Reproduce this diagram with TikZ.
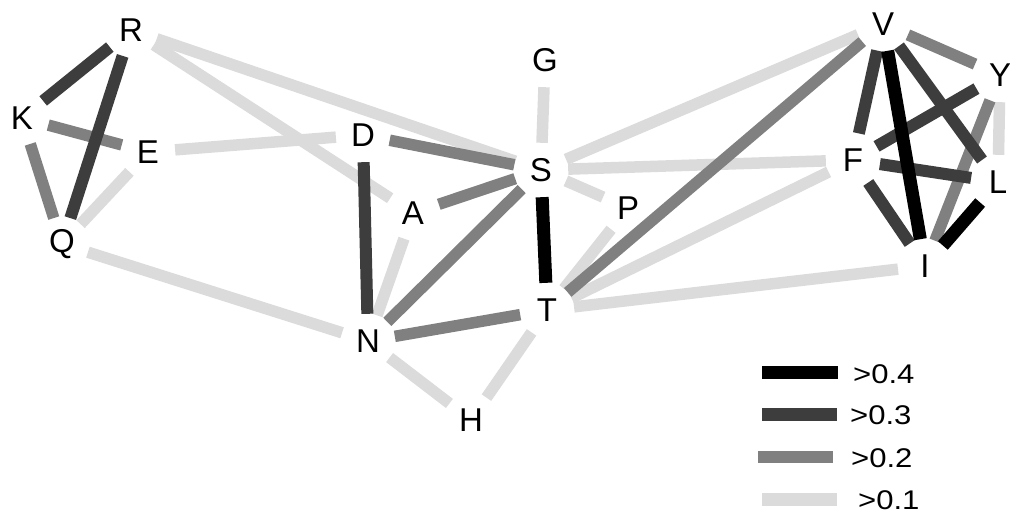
\documentclass[tikz,border=0pt]{standalone}
\usepackage{fontspec}
\setmainfont{Liberation Sans}
\definecolor{wfour}{gray}{0.0}
\definecolor{wthree}{gray}{0.24}
\definecolor{wtwo}{gray}{0.5}
\definecolor{wone}{gray}{0.86}
\tikzset{
  vx/.style={circle, minimum size=54pt, inner sep=0pt, font=\fontsize{33}{33}\selectfont},
  eone/.style={draw=wone, line width=11.5pt, line cap=butt},
  etwo/.style={draw=wtwo, line width=11.5pt, line cap=butt},
  ethree/.style={draw=wthree, line width=12pt, line cap=butt},
  efour/.style={draw=wfour, line width=13pt, line cap=butt},
  legtxt/.style={anchor=west, inner sep=0pt, font=\fontsize{27}{27}\selectfont}
}
\begin{document}
\begin{tikzpicture}[x=1pt,y=-1pt]
\useasboundingbox (0,0) rectangle (1010,514);
% nodes
\node[vx] (R) at (131,30) {R};
\node[vx] (K) at (22,118) {K};
\node[vx] (E) at (148,152) {E};
\node[vx] (Q) at (62,244) {Q};
\node[vx] (D) at (363,135) {D};
\node[vx] (A) at (413,213) {A};
\node[vx] (S) at (541,170) {S};
\node[vx] (G) at (545,60) {G};
\node[vx] (P) at (628,208) {P};
\node[vx] (T) at (547,310) {T};
\node[vx] (N) at (368,341) {N};
\node[vx] (H) at (471,420) {H};
\node[vx] (V) at (883,24) {V};
\node[vx] (Y) at (1000,75) {Y};
\node[vx] (F) at (853,160) {F};
\node[vx] (L) at (998,182) {L};
\node[vx] (I) at (925,266) {I};
% light edges (>0.1)
\foreach \a/\b in {E/Q, R/S, R/A, E/D, Q/N, A/N, N/H, T/H, G/S, S/P, P/T, S/V, S/F, T/F, T/I, Y/L}
  \path[eone] (\a) -- (\b);
% medium edges (>0.2)
\foreach \a/\b in {K/E, K/Q, D/S, A/S, S/N, N/T, T/V, V/Y, Y/I}
  \path[etwo] (\a) -- (\b);
% dark edges (>0.3)
\foreach \a/\b in {R/K, R/Q, D/N, V/F, V/L, Y/F, F/L, F/I}
  \path[ethree] (\a) -- (\b);
% black edges (>0.4)
\foreach \a/\b in {S/T, V/I, L/I}
  \path[efour] (\a) -- (\b);
% legend
\coordinate (l4a) at (762,372); \coordinate (l4b) at (838,372);
\coordinate (l3a) at (762,414); \coordinate (l3b) at (837,414);
\coordinate (l2a) at (758,457); \coordinate (l2b) at (833,457);
\coordinate (l1a) at (762,499); \coordinate (l1b) at (837,499);
\path[efour, line width=13pt] (l4a) -- (l4b);
\path[ethree, line width=13pt] (l3a) -- (l3b);
\path[etwo, line width=12pt] (l2a) -- (l2b);
\path[eone, line width=13pt] (l1a) -- (l1b);
\node[legtxt] (t4) at (853,374) {\scalebox{1.15}[1]{>0.4}};
\node[legtxt] (t3) at (850,415) {\scalebox{1.15}[1]{>0.3}};
\node[legtxt] (t2) at (851,458) {\scalebox{1.15}[1]{>0.2}};
\node[legtxt] (t1) at (858,500) {\scalebox{1.15}[1]{>0.1}};
\end{tikzpicture}
\end{document}
